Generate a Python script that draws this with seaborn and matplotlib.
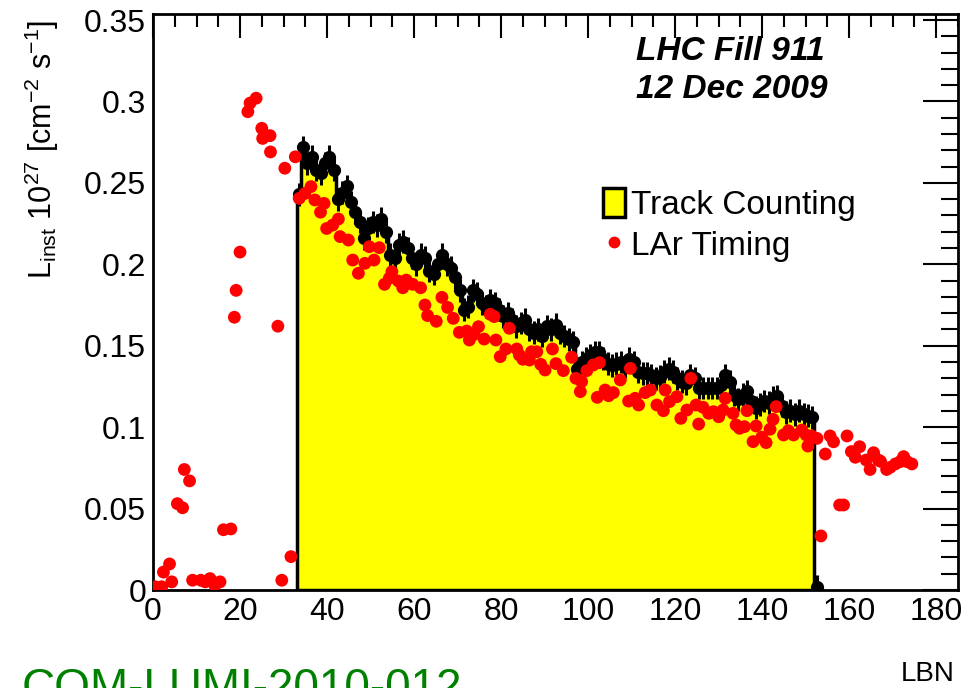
import numpy as np
import pandas as pd
import matplotlib
matplotlib.use("Agg")
import matplotlib.pyplot as plt
import seaborn as sns
from matplotlib.patches import Patch
from matplotlib.lines import Line2D
from matplotlib.ticker import MultipleLocator

# ---------------- data ----------------
track_first_lbn = 33
track_values = [
    0.243, 0.272, 0.262, 0.266, 0.258, 0.256, 0.262, 0.266, 0.258, 0.240,
    0.244, 0.248, 0.238, 0.232, 0.226, 0.216, 0.222, 0.226, 0.224, 0.228,
    0.220, 0.206, 0.204, 0.212, 0.214, 0.210, 0.204, 0.200, 0.206, 0.204,
    0.196, 0.194, 0.200, 0.206, 0.200, 0.198, 0.192, 0.184, 0.172, 0.174,
    0.184, 0.182, 0.176, 0.174, 0.178, 0.176, 0.172, 0.168, 0.170, 0.166,
    0.162, 0.164, 0.166, 0.160, 0.158, 0.160, 0.156, 0.162, 0.160, 0.163,
    0.158, 0.156, 0.154, 0.152, 0.136, 0.140, 0.142, 0.144, 0.146, 0.146,
    0.142, 0.139, 0.138, 0.139, 0.140, 0.137, 0.142, 0.140, 0.134, 0.133,
    0.133, 0.132, 0.130, 0.131, 0.134, 0.136, 0.134, 0.130, 0.128, 0.127,
    0.132, 0.130, 0.124, 0.124, 0.124, 0.124, 0.124, 0.126, 0.132, 0.128,
    0.120, 0.117, 0.120, 0.122, 0.116, 0.112, 0.114, 0.116, 0.115, 0.118,
    0.119, 0.113, 0.109, 0.110, 0.108, 0.110, 0.108, 0.107, 0.106, 0.002,
]
track_err = 0.007

lar_x = [
    0.5, 2.0, 2.4, 3.8, 4.3, 5.6, 6.8, 7.2, 8.4, 9.1, 11.0, 12.0, 13.1, 14.2, 15.4,
    16.2, 17.9, 18.7, 19.1, 20.0, 21.8, 22.3, 23.7, 25.0, 25.2, 26.9, 27.0, 28.7,
    29.6, 30.3, 31.7, 32.7,
    33.6, 34.9, 36.3, 37.2, 38.5, 39.3, 39.9, 41.3, 42.6, 43.0, 44.9, 45.9, 47.2,
    48.7, 49.7, 50.8, 52.0, 53.2, 54.3, 54.9, 56.4, 57.4, 58.2, 59.7, 61.5, 62.5,
    63.1, 65.1, 66.4, 67.7, 69.0, 70.4, 72.1, 72.7, 73.8, 74.8, 76.1, 77.5, 78.4,
    78.8, 79.8, 81.1, 81.9, 83.6, 84.2, 85.0, 86.5, 87.0, 88.2, 89.1, 90.1, 91.8,
    92.6, 94.3, 96.2, 97.2, 98.2, 98.5, 99.7, 101.2, 102.1, 102.6, 103.9, 104.7,
    105.8, 107.4, 109.3, 109.7, 110.8, 111.6, 113.1, 114.3, 115.8, 117.3, 117.7,
    118.7, 120.4, 121.3, 122.7, 123.6, 124.8, 125.4, 126.4, 127.7, 128.8, 130.0,
    131.0, 131.5, 133.3, 134.0, 134.8, 135.9, 136.5, 137.9, 138.6, 139.9, 140.9,
    141.8, 142.5, 143.2, 144.9, 146.0, 147.2, 149.1, 150.1, 150.5, 151.4, 152.6,
    153.5, 154.5, 155.6, 156.4, 157.8, 158.7, 159.5, 160.5, 161.4, 162.4, 163.9,
    164.8, 165.6, 166.7, 167.2, 168.6, 169.4, 170.6, 171.7, 172.5, 173.3, 174.4,
]
lar_y = [
    0.002, 0.002, 0.011, 0.016, 0.005, 0.053, 0.0505, 0.074, 0.067, 0.006, 0.006,
    0.005, 0.007, 0.003, 0.005,
    0.037, 0.0375, 0.1675, 0.184, 0.2075, 0.2937, 0.299, 0.302, 0.2835, 0.2773,
    0.279, 0.269, 0.162, 0.006, 0.259, 0.0205, 0.266,
    0.2405, 0.2435, 0.2477, 0.2395, 0.232, 0.2374, 0.222, 0.2241, 0.2278, 0.217,
    0.2149, 0.2026, 0.1945, 0.2006, 0.2108, 0.2026, 0.2102, 0.1877, 0.1914, 0.1955,
    0.1897, 0.1856, 0.1903, 0.1877, 0.1856, 0.175, 0.1685, 0.165, 0.1797, 0.1735,
    0.1668, 0.1582, 0.159, 0.1535, 0.157, 0.1617, 0.1541, 0.1693, 0.1679, 0.1535,
    0.1433, 0.148, 0.1607, 0.148, 0.1443, 0.1417, 0.1412, 0.1463, 0.1463, 0.1386,
    0.1351, 0.148, 0.139, 0.1347, 0.1429, 0.130, 0.1218, 0.128, 0.1347, 0.1382,
    0.1183, 0.1396, 0.1228, 0.1193, 0.1212, 0.129, 0.116, 0.1361, 0.1177, 0.1136,
    0.1212, 0.1228, 0.1136, 0.1101, 0.1228, 0.1157, 0.1187, 0.1054, 0.1105, 0.130,
    0.1136, 0.1019, 0.1122, 0.1085, 0.1095, 0.1064, 0.1105, 0.1177, 0.1085, 0.1013,
    0.0993, 0.1003, 0.1101, 0.0911, 0.1007, 0.0938, 0.0905, 0.0987, 0.1048, 0.1126,
    0.0952, 0.0978, 0.0952, 0.0982, 0.0952, 0.0884, 0.0946, 0.0931,
    0.0332, 0.0835, 0.0946, 0.091, 0.0522, 0.0522, 0.0946, 0.085, 0.0815, 0.088,
    0.0798, 0.074, 0.0843, 0.0798, 0.079, 0.074, 0.0753, 0.0774, 0.0788, 0.0819,
    0.0788, 0.0774,
]

x_ticks = [0, 20, 40, 60, 80, 100, 120, 140, 160, 180]
y_ticks = [0, 0.05, 0.1, 0.15, 0.2, 0.25, 0.3, 0.35]
y_tick_labels = ["0", "0.05", "0.1", "0.15", "0.2", "0.25", "0.3", "0.35"]

# ---------------- styling ----------------
sns.set_theme(style="white")
plt.rcParams["font.family"] = ["Liberation Sans", "DejaVu Sans"]
plt.rcParams["mathtext.default"] = "regular"
plt.rcParams["text.color"] = "black"
plt.rcParams["axes.labelcolor"] = "black"
plt.rcParams["xtick.color"] = "black"
plt.rcParams["ytick.color"] = "black"
plt.rcParams["xtick.labelcolor"] = "black"
plt.rcParams["ytick.labelcolor"] = "black"

fig = plt.figure(figsize=(9.69, 6.88), dpi=100)
W, H = 969, 688
ax = fig.add_axes([153 / W, 1 - 590 / H, (958 - 153) / W, (590 - 14) / H])

n = len(track_values)
centers = np.arange(track_first_lbn, track_first_lbn + n) + 0.5
track_df = pd.DataFrame({"lbn": centers, "lumi": track_values})
lar_df = pd.DataFrame({"lbn": lar_x, "lumi": lar_y})

sns.histplot(data=track_df, x="lbn", weights="lumi", binwidth=1,
             binrange=(track_first_lbn, track_first_lbn + n), element="step",
             fill=True, color="#ffff00", edgecolor="black", linewidth=2.5,
             alpha=1, ax=ax, zorder=2)
ax.errorbar(track_df["lbn"], track_df["lumi"], yerr=track_err, fmt="o",
            color="black", ms=8.5, elinewidth=2.2, capsize=0, zorder=3)
sns.scatterplot(data=lar_df, x="lbn", y="lumi", color="#ff0000", s=85,
                edgecolor="none", linewidth=0, ax=ax, zorder=4)

ax.set_xlim(0, 185)
ax.set_ylim(0, 0.3537)
ax.set_xticks(x_ticks)
ax.set_xticklabels([str(t) for t in x_ticks])
ax.set_yticks(y_ticks)
ax.set_yticklabels(y_tick_labels)
ax.xaxis.set_minor_locator(MultipleLocator(5))
ax.yaxis.set_minor_locator(MultipleLocator(0.01))
ax.set_xlabel("")
ax.set_ylabel("")
ax.tick_params(axis="both", which="both", direction="in", top=True, right=True,
               labelsize=23, colors="black", labelcolor="black", pad=5, width=1.5)
ax.tick_params(axis="y", which="major", length=25)
ax.tick_params(axis="y", which="minor", length=12)
ax.tick_params(axis="x", which="major", length=17)
ax.tick_params(axis="x", which="minor", length=9)
for s in ax.spines.values():
    s.set_visible(True)
    s.set_color("black")
    s.set_linewidth(2)

# legend
handles = [
    Patch(facecolor="#ffff00", edgecolor="black", linewidth=2.5, label="Track Counting"),
    Line2D([], [], marker="o", ls="none", color="#ff0000", markersize=7.5, label="LAr Timing"),
]
leg = ax.legend(handles=handles, loc="upper left", bbox_to_anchor=(603 / W, 1 - 188 / H),
                bbox_transform=fig.transFigure, frameon=False, fontsize=24,
                handlelength=0.65, handleheight=0.95, handletextpad=0.2,
                labelspacing=0.25, borderpad=0, borderaxespad=0)
for t in leg.get_texts():
    t.set_color("black")

# texts
fig.text(636 / W, 1 - 52 / H, "LHC Fill 911", fontsize=24, fontweight="bold",
         fontstyle="italic", ha="left", va="center", color="black")
fig.text(636 / W, 1 - 90 / H, "12 Dec 2009", fontsize=24, fontweight="bold",
         fontstyle="italic", ha="left", va="center", color="black")
fig.text(42 / W, 1 - 20 / H,
         r"L$_{inst}$ 10$^{27}$ [cm$^{-2}$ s$^{-1}$]",
         fontsize=22, rotation=90, ha="center", va="top", color="black")
fig.text(955 / W, 1 - 681 / H, "LBN", fontsize=20, ha="right", va="baseline",
         color="black")
fig.text(22 / W, 1 - 701 / H, "COM-LUMI-2010-012", fontsize=33, color="#008000",
         ha="left", va="baseline")

fig.savefig("out.png", dpi=100)
